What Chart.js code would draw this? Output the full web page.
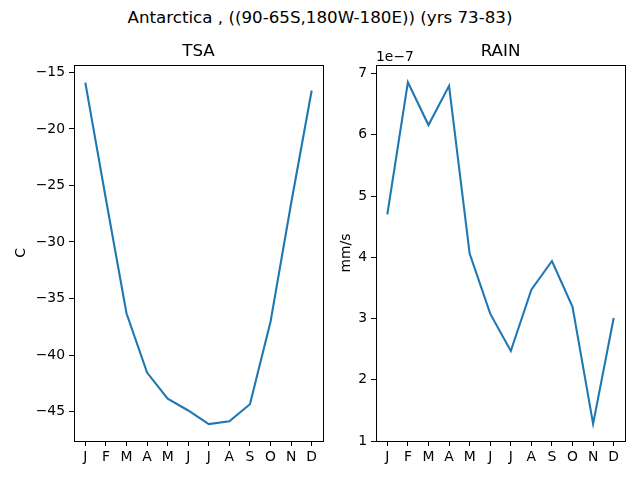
<!DOCTYPE html>
<html>
<head>
<meta charset="utf-8">
<script src="https://cdn.jsdelivr.net/npm/chart.js@4/dist/chart.umd.min.js"></script>
<style>
  html, body { margin: 0; background: #fff; overflow: hidden; }
  #fig { position: relative; width: 640px; height: 480px; overflow: hidden; font-family: "DejaVu Sans", sans-serif; color: #000; }
  #suptitle { position: absolute; left: 0; top: 7px; width: 640px; text-align: center; font-size: 16.7px; line-height: 20px; }
  #offset { position: absolute; left: 376px; top: 48px; font-size: 13.9px; line-height: 16px; }
  canvas { position: absolute; }
</style>
</head>
<body>
<div id="fig">
  <div id="suptitle">Antarctica , ((90-65S,180W-180E)) (yrs 73-83)</div>
  <canvas id="tsaChart" width="330" height="450" style="left:0;top:30px"></canvas>
  <canvas id="rainChart" width="310" height="450" style="left:330px;top:30px"></canvas>
  <div id="offset">1e−7</div>
</div>
<script>
// months along the x axis
const months = ['J', 'F', 'M', 'A', 'M', 'J', 'J', 'A', 'S', 'O', 'N', 'D'];

// surface air temperature (C)
const tsaValues = [-15.9, -26.2, -36.3, -41.55, -43.85, -44.9, -46.1, -45.85, -44.35, -37.05, -26.6, -16.6];
const tsaTicks = [-45, -40, -35, -30, -25, -20, -15];

// rain rate (mm/s)
const rainValues = [4.70e-7, 6.86e-7, 6.16e-7, 6.80e-7, 4.06e-7, 3.08e-7, 2.47e-7, 3.47e-7, 3.94e-7, 3.19e-7, 1.28e-7, 3.01e-7];
const rainTicks = [1e-7, 2e-7, 3e-7, 4e-7, 5e-7, 6e-7, 7e-7];

Chart.defaults.font.family = '"DejaVu Sans", sans-serif';
Chart.defaults.color = '#000';

// draw the box round the plot area, like matplotlib's spines
const framePlugin = {
    id: 'frame',
    afterDraw(chart) {
        const { ctx, chartArea: a } = chart;
        ctx.save();
        ctx.strokeStyle = '#000';
        ctx.lineWidth = 1;
        ctx.strokeRect(Math.round(a.left) + 0.5, Math.round(a.top) + 0.5,
            Math.round(a.right - a.left), Math.round(a.bottom - a.top));
        ctx.restore();
    }
};

function makePanel(canvasId, title, unit, values, ticks, yMin, yMax, yAxisWidth, rightPad, titlePad, fmt) {
    const ctx = document.getElementById(canvasId).getContext('2d');
    return new Chart(ctx, {
        type: 'line',
        data: {
            datasets: [{
                data: values.map((v, i) => ({ x: i, y: v })),
                borderColor: '#1f77b4',
                borderWidth: 2.1,
                pointRadius: 0,
                tension: 0,
                fill: false
            }]
        },
        options: {
            responsive: false,
            animation: false,
            devicePixelRatio: 1,
            layout: { padding: { left: 0, right: rightPad, top: 0, bottom: 0 } },
            plugins: {
                legend: { display: false },
                tooltip: { enabled: false },
                title: {
                    display: true,
                    fullSize: false, // centre over the plot area only
                    text: title,
                    font: { size: 16.7, weight: 'normal' },
                    padding: { top: 12, bottom: 3 }
                }
            },
            scales: {
                x: {
                    type: 'linear',
                    min: -0.55,
                    max: 11.55,
                    afterBuildTicks: scale => { scale.ticks = months.map((m, i) => ({ value: i })); },
                    afterFit: scale => { scale.height = 39; },
                    ticks: {
                        font: { size: 13.9 },
                        padding: 3,
                        maxRotation: 0,
                        autoSkip: false,
                        callback: v => months[v]
                    },
                    grid: { drawOnChartArea: false, tickLength: 5, color: '#000' },
                    border: { display: false }
                },
                y: {
                    min: yMin,
                    max: yMax,
                    afterBuildTicks: scale => { scale.ticks = ticks.map(t => ({ value: t })); },
                    afterFit: scale => { scale.width = yAxisWidth; },
                    ticks: {
                        font: { size: 13.9 },
                        padding: 4,
                        callback: fmt
                    },
                    title: {
                        display: true,
                        text: unit,
                        font: { size: 13.9 },
                        padding: { top: titlePad, bottom: 0 }
                    },
                    grid: { drawOnChartArea: false, tickLength: 5, color: '#000' },
                    border: { display: false }
                }
            }
        },
        plugins: [framePlugin]
    });
}

makePanel('tsaChart', 'TSA', 'C', tsaValues, tsaTicks, -47.6, -14.35, 74, 7, 13,
    v => (v < 0 ? '\u2212' + Math.abs(v) : String(v)));

makePanel('rainChart', 'RAIN', 'mm/s', rainValues, rainTicks, 1.0e-7, 7.14e-7, 46, 15, 8,
    v => String(Math.round(v * 1e7)));
</script>
</body>
</html>
